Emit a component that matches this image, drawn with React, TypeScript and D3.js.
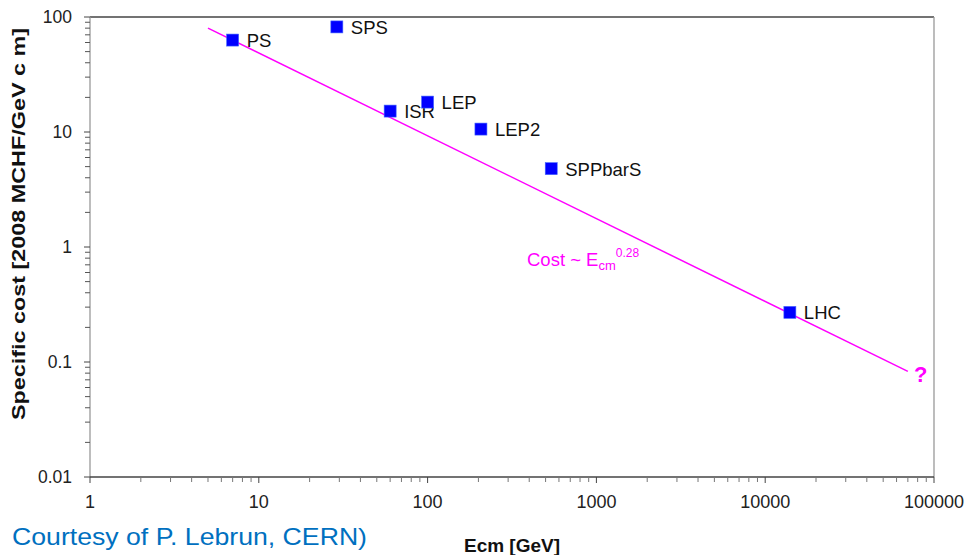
import React from "react";
import * as d3 from "d3";

const machines = ["PS", "SPS", "ISR", "LEP", "LEP2", "SPPbarS", "LHC"];
const ecm = [7, 29, 60, 100, 207, 540, 14000];
const cost = [63, 82, 15.2, 18.2, 10.6, 4.8, 0.27];
const fitE = [5, 70000];
const fitA = 255;
const fitSlope = -0.72;
const xTicks = [1, 10, 100, 1000, 10000, 100000];
const yTicks = [0.01, 0.1, 1, 10, 100];

const W = 967, H = 555;
const L = 90, R = 934, T = 17, B = 477;

export default function App() {
  const x = d3.scaleLog().domain([1, 100000]).range([L, R]);
  const y = d3.scaleLog().domain([0.01, 100]).range([B, T]);
  const font = "Liberation Sans, Arial, sans-serif";

  const minorX: number[] = [];
  for (let d = 1; d < 100000; d *= 10) for (let k = 2; k <= 9; k++) minorX.push(d * k);
  const minorY: number[] = [];
  for (let d = 0.01; d < 99; d *= 10) for (let k = 2; k <= 9; k++) minorY.push(d * k);

  const fitLine = d3.line<number>().x((e) => x(e)).y((e) => y(fitA * Math.pow(e, fitSlope)));

  return (
    <div style={{ position: "absolute", left: 0, top: 0 }}>
      <svg width={W} height={H} style={{ display: "block", fontFamily: font }}>
        <rect width={W} height={H} fill="#fff" />
        {/* frame */}
        <line x1={L} x2={R} y1={T} y2={T} stroke="#444" strokeWidth={1.3} />
        <line x1={R} x2={R} y1={T} y2={B} stroke="#999" strokeWidth={1.3} />
        <line x1={L} x2={L} y1={T} y2={B} stroke="#999" strokeWidth={1.3} />
        <line x1={L} x2={R} y1={B} y2={B} stroke="#444" strokeWidth={1.3} />
        {/* y ticks */}
        {yTicks.map((t) => (
          <g key={"yt" + t}>
            <line x1={L - 6} x2={L} y1={y(t)} y2={y(t)} stroke="#444" />
            <text x={L - 18} y={y(t)} dy="0.35em" textAnchor="end" fontSize={17.5} fill="#222">{String(t)}</text>
          </g>
        ))}
        {minorY.map((t) => (
          <line key={"ym" + t} x1={L - 5} x2={L} y1={y(t)} y2={y(t)} stroke="#555" />
        ))}
        {/* x ticks */}
        {xTicks.map((t) => (
          <g key={"xt" + t}>
            <line x1={x(t)} x2={x(t)} y1={B} y2={B + 6} stroke="#444" />
            <text x={x(t)} y={B + 31} textAnchor="middle" fontSize={18} fill="#222">{String(t)}</text>
          </g>
        ))}
        {minorX.map((t) => (
          <line key={"xm" + t} x1={x(t)} x2={x(t)} y1={B} y2={B + 5} stroke="#777" />
        ))}
        {/* fit line */}
        <path d={fitLine(fitE) || ""} fill="none" stroke="#ff00ff" strokeWidth={1.5} />
        {/* points */}
        {machines.map((m, i) => (
          <g key={m}>
            <rect x={x(ecm[i]) - 6} y={y(cost[i]) - 6} width={12} height={12} fill="#0000ff" stroke="#4466ff" strokeWidth={0.6} />
            <text x={x(ecm[i]) + 14} y={y(cost[i])} dy="0.38em" fontSize={18.5} fill="#111">{m}</text>
          </g>
        ))}
        {/* fit label */}
        <text x={527} y={266} fontSize={18.5} fill="#ff00ff">
          Cost ~ E
          <tspan fontSize={13} dy={4}>cm</tspan>
          <tspan fontSize={12} dy={-13}>0.28</tspan>
        </text>
        <text x={914} y={382} fontSize={22} fontWeight="bold" fill="#ff00ff">?</text>
        {/* axis titles */}
        <text x={512} y={552} textAnchor="middle" fontSize={19} fontWeight="bold" fill="#111">Ecm [GeV]</text>
        <text transform={`translate(25,224) rotate(-90)`} textAnchor="middle" fontSize={19} fontWeight="bold" fill="#111" textLength={392} lengthAdjust="spacingAndGlyphs">
          Specific cost [2008 MCHF/GeV c m]
        </text>
        <text x={12} y={545} fontSize={24} fill="#0070c0" textLength={355} lengthAdjust="spacingAndGlyphs">Courtesy of P. Lebrun, CERN)</text>
      </svg>
    </div>
  );
}
